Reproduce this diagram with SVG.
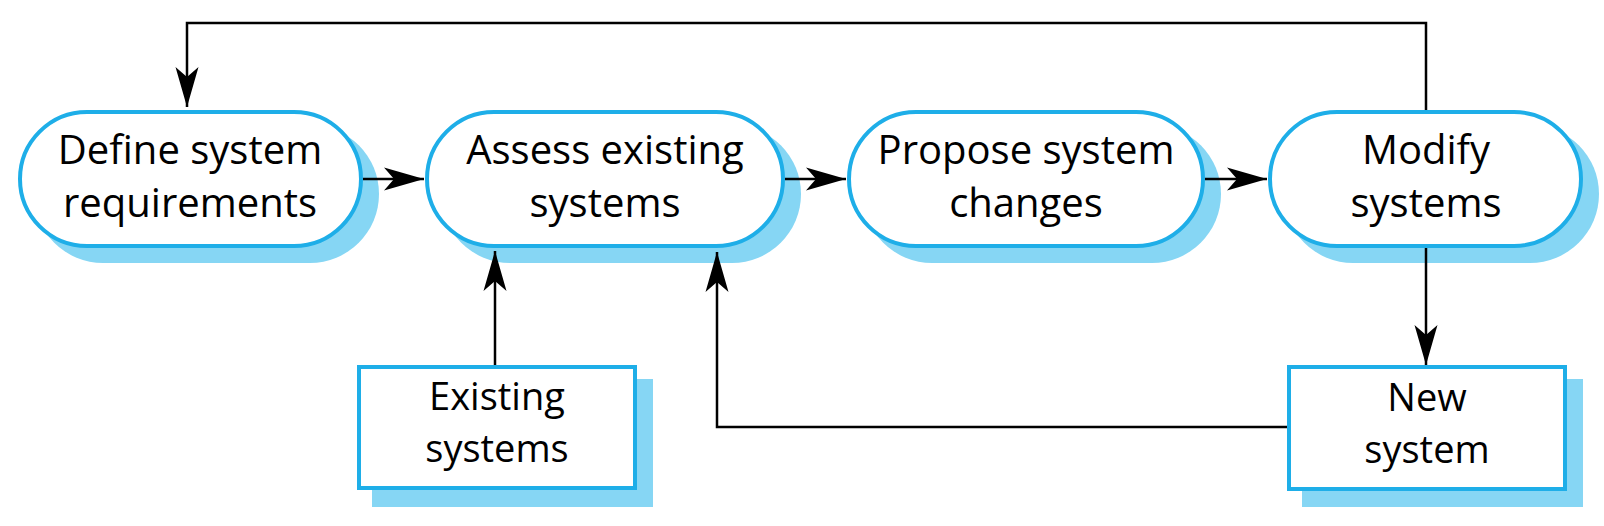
<svg xmlns="http://www.w3.org/2000/svg" width="1604" height="526" viewBox="0 0 1604 526">
  <style>
    .shadow { fill: #86d6f4; stroke: none; }
    .node { fill: #ffffff; stroke: #1eaee8; stroke-width: 4; }
    .label { font-family: "Open Sans", "Noto Sans", sans-serif; font-size: 40px; fill: #000000; text-anchor: middle; }
    .small { font-size: 38px; }
    .conn { fill: none; stroke: #000000; stroke-width: 2.5; }
  </style>
  <defs>
    <marker id="arrow" markerUnits="userSpaceOnUse" viewBox="-41 -12 42 24" refX="0" refY="0" markerWidth="42" markerHeight="24" orient="auto">
      <path d="M0,0 L-40,-11.5 L-30,0 L-40,11.5 Z" fill="#000000"/>
    </marker>
  </defs>
  <rect width="1604" height="526" fill="#ffffff"/>

  <g id="define">
    <rect class="shadow" x="34" y="125" width="345" height="138" rx="69"/>
    <rect class="node" x="20" y="112" width="341" height="134" rx="67"/>
    <text class="label"><tspan x="190" y="164">Define system</tspan><tspan x="190" y="217">requirements</tspan></text>
  </g>
  <g id="assess">
    <rect class="shadow" x="441" y="125" width="360" height="138" rx="69"/>
    <rect class="node" x="427" y="112" width="356" height="134" rx="67"/>
    <text class="label"><tspan x="605" y="164">Assess existing</tspan><tspan x="605" y="217">systems</tspan></text>
  </g>
  <g id="propose">
    <rect class="shadow" x="863" y="125" width="358" height="138" rx="69"/>
    <rect class="node" x="849" y="112" width="354" height="134" rx="67"/>
    <text class="label"><tspan x="1026" y="164">Propose system</tspan><tspan x="1026" y="217">changes</tspan></text>
  </g>
  <g id="modify">
    <rect class="shadow" x="1284" y="125" width="315" height="138" rx="69"/>
    <rect class="node" x="1270" y="112" width="311" height="134" rx="67"/>
    <text class="label"><tspan x="1426" y="164">Modify</tspan><tspan x="1426" y="217">systems</tspan></text>
  </g>
  <g id="existing">
    <rect class="shadow" x="372" y="379" width="281" height="128"/>
    <rect class="node" x="359" y="367" width="276" height="121"/>
    <text class="label small"><tspan x="497" y="410">Existing</tspan><tspan x="497" y="462">systems</tspan></text>
  </g>
  <g id="newsystem">
    <rect class="shadow" x="1302" y="379" width="281" height="128"/>
    <rect class="node" x="1289" y="367" width="276" height="122"/>
    <text class="label small"><tspan x="1427" y="411">New</tspan><tspan x="1427" y="463">system</tspan></text>
  </g>

  <g id="connectors">
    <path class="conn" d="M363,179 L424,179" marker-end="url(#arrow)"/>
    <path class="conn" d="M785,179 L846,179" marker-end="url(#arrow)"/>
    <path class="conn" d="M1205,179 L1267,179" marker-end="url(#arrow)"/>
    <path class="conn" d="M495,365 L495,251" marker-end="url(#arrow)"/>
    <path class="conn" d="M1287,427 L717,427 L717,252" marker-end="url(#arrow)"/>
    <path class="conn" d="M1426,248 L1426,365" marker-end="url(#arrow)"/>
    <path class="conn" d="M1426,110 L1426,23 L187,23 L187,107" marker-end="url(#arrow)"/>
  </g>
</svg>
